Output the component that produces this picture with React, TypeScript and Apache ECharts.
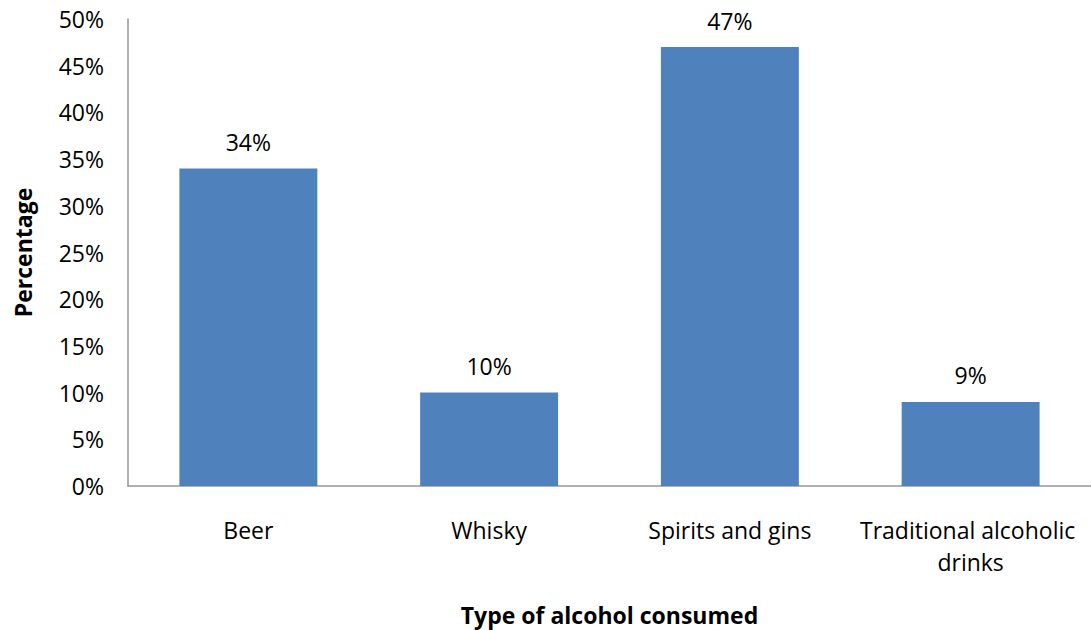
import React, { useEffect, useRef } from "react";
import * as echarts from "echarts";

const categories = ["Beer", "Whisky", "Spirits and gins", "Traditional alcoholic drinks"];
const values = [34, 10, 47, 9];
const yTicks = { min: 0, max: 50, interval: 5 };

export default function App() {
  const ref = useRef<HTMLDivElement>(null);
  useEffect(() => {
    if (!ref.current) return;
    const chart = echarts.init(ref.current, undefined, { renderer: "svg" });
    const font = "'Open Sans', sans-serif";
    const fs = 23;
    chart.setOption({
      animation: false,
      textStyle: { fontFamily: font },
      grid: { left: 128, right: 0, top: 19, bottom: 144, containLabel: false, outerBoundsMode: "none" },
      xAxis: {
        type: "category",
        data: categories,
        axisLine: { lineStyle: { color: "#969696", width: 1.5 } },
        axisTick: { show: false },
        axisLabel: {
          color: "#000",
          fontSize: fs,
          fontFamily: font,
          margin: 28,
          lineHeight: 32,
          width: 238,
          overflow: "break",
          interval: 0,
          hideOverlap: false,
        },
        name: "Type of alcohol consumed",
        nameLocation: "middle",
        nameGap: 117,
        nameTextStyle: { color: "#000", fontSize: fs, fontWeight: "bold", fontFamily: font },
      },
      yAxis: {
        type: "value",
        min: yTicks.min,
        max: yTicks.max,
        interval: yTicks.interval,
        axisLine: { show: true, lineStyle: { color: "#969696", width: 1.5 } },
        axisTick: { show: false },
        splitLine: { show: false },
        axisLabel: {
          color: "#000",
          fontSize: fs,
          fontFamily: font,
          margin: 24,
          formatter: (v: number) => v + "%",
        },
        name: "Percentage",
        nameLocation: "middle",
        nameGap: 94,
        nameRotate: 90,
        nameTextStyle: { color: "#000", fontSize: fs, fontWeight: "bold", fontFamily: font },
      },
      series: [
        {
          type: "bar",
          data: values,
          barWidth: "57.3%",
          itemStyle: { color: "#4F81BD" },
          label: {
            show: true,
            position: "top",
            distance: 15,
            color: "#000",
            fontSize: fs,
            fontFamily: font,
            formatter: (p: any) => p.value + "%",
          },
        },
      ],
    });
    return () => chart.dispose();
  }, []);
  return (
    <div
      ref={ref}
      style={{ position: "fixed", left: 0, top: 0, width: 1091, height: 630, background: "#fff" }}
    />
  );
}
